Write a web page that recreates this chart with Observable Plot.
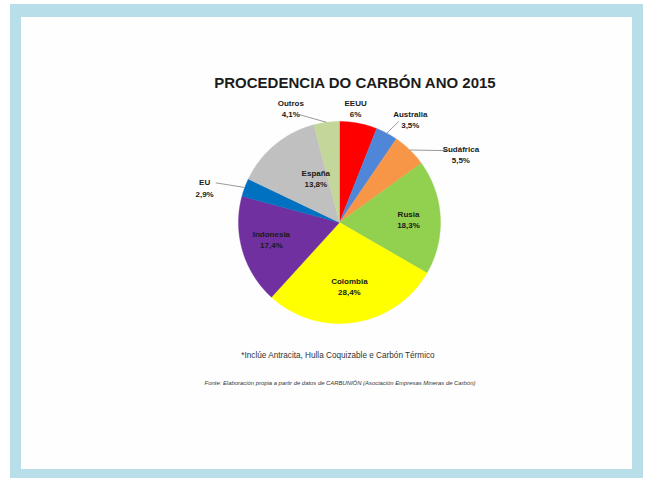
<!DOCTYPE html>
<html>
<head>
<meta charset="utf-8">
<script src="https://cdn.jsdelivr.net/npm/d3@7"></script>
<script src="https://cdn.jsdelivr.net/npm/@observablehq/plot@0.6"></script>
<style>
  html, body { margin: 0; padding: 0; background: #fff; }
  body { position: relative; width: 653px; height: 480px; overflow: hidden; font-family: "Liberation Sans", Arial, sans-serif; }
  #frame { position: absolute; left: 10px; top: 4px; width: 633px; height: 474px; box-sizing: border-box;
           border-style: solid; border-color: #b8dfe9; border-width: 13px 11px 9px 11px; background: #fefefe; }
  #title { position: absolute; left: 0; width: 710px; top: 75px; text-align: center; font-weight: bold; font-size: 15px; line-height: 15px; color: #1c1c1c; }
  #chart { position: absolute; left: 0; top: 95px; }
  #note { position: absolute; left: 0; width: 676px; top: 351px; text-align: center; font-size: 8.2px; line-height: 9px; color: #333; font-family: "Liberation Sans Narrow", "Liberation Sans", sans-serif; }
  #source { position: absolute; left: 0; width: 680px; top: 380px; text-align: center; font-size: 5.9px; line-height: 7px; font-style: italic; color: #333; }
</style>
</head>
<body>
<div id="frame"></div>
<div id="title">PROCEDENCIA DO CARBÓN ANO 2015</div>
<div id="chart"></div>
<div id="note">*Inclúe Antracita, Hulla Coquizable e Carbón Térmico</div>
<div id="source">Fonte: Elaboración propia a partir de datos de CARBUNIÓN (Asociación Empresas Mineras de Carbón)</div>
<script>
// ---- data ----
const categories = ["EEUU", "Australia", "Sudáfrica", "Rusia", "Colombia", "Indonesia", "EU", "España", "Outros"];
const values = [6, 3.5, 5.5, 18.3, 28.4, 17.4, 2.9, 13.8, 4.1];
const colors = ["#ff0000", "#4f86d8", "#f79646", "#92d050", "#ffff00", "#7030a0", "#0070c0", "#c0c0c0", "#c4d79b"];

// ---- label layout (radius factor, angle nudge in degrees) ----
const labelRadius = [1.145, 1.24, 1.38, 0.684, 0.638, 0.694, 1.38, 0.5, 1.23];
const labelShift = [-2.8, 6.5, 16.4, 0, 0, 2.6, -5.7, 11.7, -15.7];
const leaderRadius = [null, 1.158, 1.277, null, null, null, 1.287, null, 1.144];
const leaderShift = [0, 2.4, 12, 0, 0, 0, -2.5, 0, -13.3];

const fmt = v => (Number.isInteger(v) ? String(v) : String(v).replace(".", ",")) + "%";

const arcs = d3.pie().sort(null).value(d => d.value)(categories.map((c, i) => ({name: c, value: values[i], i})));

const polar = (a, r) => ({x: r * Math.sin(a), y: r * Math.cos(a)});
const rad = deg => deg * Math.PI / 180;

// slice polygons
const poly = [];
for (const a of arcs) {
  const n = Math.max(2, Math.ceil((a.endAngle - a.startAngle) / 0.02));
  poly.push({name: a.data.name, ...polar(0, 0)});
  for (let k = 0; k <= n; k++) {
    const t = a.startAngle + (a.endAngle - a.startAngle) * k / n;
    poly.push({name: a.data.name, ...polar(t, 1)});
  }
  poly.push({name: a.data.name, ...polar(0, 0)});
}

const labels = arcs.map(a => {
  const i = a.data.i;
  const mid = (a.startAngle + a.endAngle) / 2 + rad(labelShift[i]);
  return {text: a.data.name + "\n" + fmt(a.data.value), ...polar(mid, labelRadius[i])};
});

const leaders = arcs.filter(a => leaderRadius[a.data.i] != null).map(a => {
  const i = a.data.i;
  const mid = (a.startAngle + a.endAngle) / 2;
  const p1 = polar(mid, 1.0);
  const p2 = polar(mid + rad(leaderShift[i]), leaderRadius[i]);
  return {x1: p1.x, y1: p1.y, x2: p2.x, y2: p2.y};
});

const chart = Plot.plot({
  width: 653,
  height: 250,
  margin: 0,
  style: {background: "transparent", overflow: "visible"},
  x: {domain: [-1, 1], range: [238, 440], axis: null},
  y: {domain: [-1, 1], range: [228, 26], axis: null},
  color: {domain: categories, range: colors},
  marks: [
    Plot.line(poly, {x: "x", y: "y", z: "name", fill: "name", stroke: "name", strokeWidth: 0.4, curve: "linear"}),
    Plot.link(leaders, {x1: "x1", y1: "y1", x2: "x2", y2: "y2", stroke: "#808080", strokeWidth: 0.8}),
    Plot.text(labels, {x: "x", y: "y", text: "text", fontSize: 8, fontWeight: "bold", lineHeight: 1.4,
      fill: "#1a1a1a", fontFamily: "Liberation Sans Narrow, Liberation Sans, Arial, sans-serif"})
  ]
});
document.getElementById("chart").appendChild(chart);
</script>
</body>
</html>
